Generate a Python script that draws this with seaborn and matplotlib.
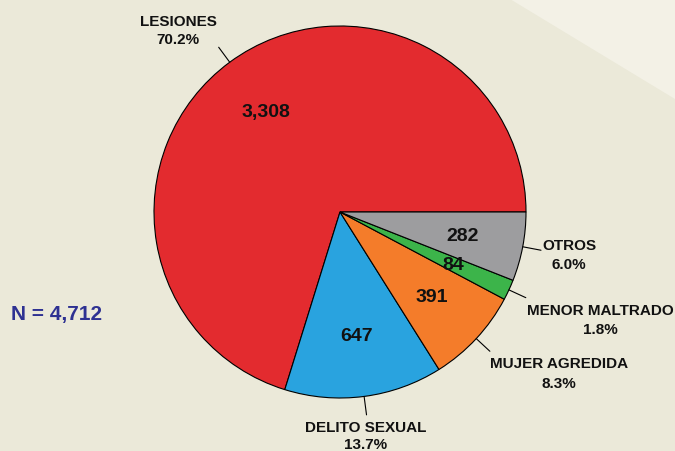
import numpy as np
import matplotlib
matplotlib.use("Agg")
import matplotlib.pyplot as plt
import seaborn as sns
from matplotlib.patches import Polygon

categories = ["LESIONES", "DELITO SEXUAL", "MUJER AGREDIDA", "MENOR MALTRADO", "OTROS"]
counts = [3308, 647, 391, 84, 282]
percent_labels = ["70.2%", "13.7%", "8.3%", "1.8%", "6.0%"]
total_label = "N = 4,712"

colors = ["#e32b2f", "#29a3df", "#f47c2a", "#3cb44a", "#9d9d9f"]

sns.set_theme(style="white")
plt.rcParams['font.family'] = ['Liberation Sans', 'DejaVu Sans']

BG = "#ebe9d9"
fig = plt.figure(figsize=(6.75, 4.52), dpi=100)
fig.patch.set_facecolor(BG)
ax = fig.add_axes([0, 0, 1, 1])
ax.set_facecolor(BG)

cx, cy, R = 340, 213, 186
vals = iter(counts)
wedges, texts, autotexts = ax.pie(
    counts, colors=colors, startangle=0, counterclock=False,
    center=(cx, cy), radius=R,
    autopct=lambda p: f"{next(vals):,}", pctdistance=0.67,
    wedgeprops=dict(edgecolor="black", linewidth=0.8),
    textprops=dict(fontsize=14, fontweight="bold", color="#111111"),
)
ax.set_xlim(0, 675)
ax.set_ylim(452, 0)
ax.set_aspect("auto")
ax.axis("off")

# lighter diagonal band in the top-right corner
ax.add_patch(Polygon([(510, 0), (675, 0), (675, 100)], closed=True,
                     facecolor="#f3f1e6", edgecolor="none", zorder=0))

# leader lines
for w in wedges:
    th = np.deg2rad((w.theta1 + w.theta2) / 2)
    x0, y0 = cx + R * np.cos(th), cy + R * np.sin(th)
    x1, y1 = cx + 1.1 * R * np.cos(th), cy + 1.1 * R * np.sin(th)
    ax.plot([x0, x1], [y0, y1], color="black", lw=0.8, zorder=3)

# outer labels (name / percentage)
label_pos = {
    "LESIONES": (178, 26, 44),
    "DELITO SEXUAL": (366, 432, 449),
    "MUJER AGREDIDA": (559, 368, 388),
    "MENOR MALTRADO": (600, 315.5, 334),
    "OTROS": (569, 250, 269),
}
for cat, pct in zip(categories, percent_labels):
    x, y1, y2 = label_pos[cat]
    ax.text(x, y1, cat, ha="center", va="baseline", fontsize=11,
            fontweight="bold", color="#111111")
    ax.text(x, y2, pct, ha="center", va="baseline", fontsize=11,
            fontweight="bold", color="#111111")

ax.text(57, 320, total_label, ha="center", va="baseline", fontsize=15,
        fontweight="bold", color="#2e3192")

fig.savefig("out.png", dpi=100, facecolor=BG)
